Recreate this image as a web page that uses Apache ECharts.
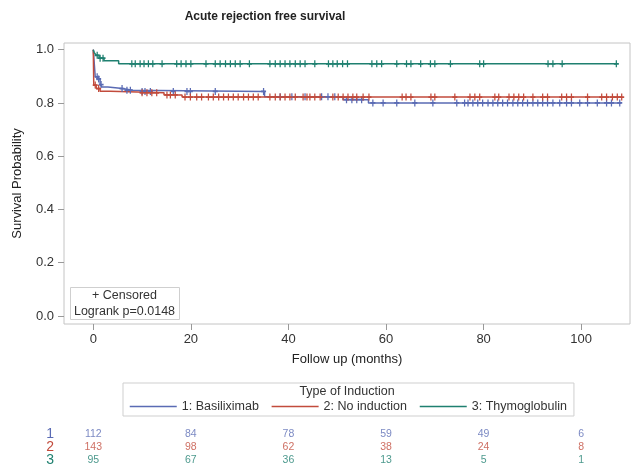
<!DOCTYPE html>
<html><head><meta charset="utf-8">
<script src="https://cdn.jsdelivr.net/npm/echarts@6/dist/echarts.min.js"></script>
<style>html,body{margin:0;padding:0;background:#fff}#c{width:631px;height:467px}</style>
</head><body><div id="c"></div>
<script>
const FONT = '"Liberation Sans", Arial, sans-serif';
const groupNames = ['1: Basiliximab', '2: No induction', '3: Thymoglobulin'];
const groupColors = ['#5a6bb4', '#c24b3c', '#1f8070'];
const rowLabels = ['1', '2', '3'];

// Kaplan-Meier step curves (time in months, survival probability)
const basiliximabTimes = [0, 0.4, 0.9, 1.4, 1.8, 3, 6, 8, 35.1, 51.2, 56.4, 108.2];
const basiliximabSurv  = [1, 0.898, 0.89, 0.869, 0.86, 0.854, 0.848, 0.843, 0.823, 0.812, 0.80, 0.80];
const noInductionTimes = [0, 0.1, 0.6, 1.4, 3.5, 14.5, 18.2, 108.4];
const noInductionSurv  = [1, 0.867, 0.854, 0.844, 0.838, 0.830, 0.822, 0.822];
const thymoTimes = [0, 0.2, 0.6, 1.2, 2.2, 5.2, 107.2];
const thymoSurv  = [1, 0.989, 0.979, 0.968, 0.958, 0.947, 0.947];

// Censoring times (months)
const basiliximabCensor = [0.8, 1.1, 1.6, 5.9, 6.9, 7.6, 10.0, 10.6, 11.7, 16.4, 19.2, 19.9, 25.0, 34.9, 38.3, 40.7, 43.4, 46.8, 48.1, 49.5, 51.9, 53.0, 54.0, 55.0, 57.3, 59.4, 62.2, 65.9, 69.6, 74.5, 76.1, 76.8, 77.8, 78.8, 79.8, 80.9, 81.9, 82.9, 83.9, 84.9, 86.0, 87.0, 88.0, 89.0, 90.1, 91.1, 92.1, 93.1, 94.2, 95.6, 97.0, 98.0, 99.7, 101.3, 103.3, 105.2, 106.2, 107.9];
const noInductionCensor = [0.4, 1.1, 10.0, 11.0, 12.0, 13.0, 15.1, 15.8, 16.8, 18.8, 19.9, 21.2, 22.2, 23.6, 24.6, 25.7, 26.7, 27.7, 28.7, 29.7, 30.8, 31.8, 32.8, 33.8, 36.2, 37.3, 38.3, 39.3, 40.3, 41.4, 43.0, 43.8, 44.4, 45.4, 46.5, 49.1, 50.2, 51.2, 52.2, 53.2, 54.0, 55.3, 56.5, 63.3, 64.1, 65.1, 69.2, 70.0, 74.1, 77.2, 78.2, 79.2, 82.3, 83.1, 85.2, 86.2, 87.2, 88.2, 90.1, 92.1, 93.1, 96.0, 97.0, 98.0, 101.3, 104.2, 105.2, 106.4, 107.4, 108.3];
const thymoCensor = [0.8, 1.4, 2.0, 7.9, 8.6, 9.6, 10.4, 11.3, 12.2, 14.1, 17.1, 18.0, 19.0, 20.0, 23.1, 25.0, 26.0, 27.1, 28.1, 29.1, 30.1, 32.0, 36.2, 37.3, 38.3, 39.3, 40.3, 41.4, 42.4, 43.4, 45.4, 48.2, 49.1, 50.0, 51.1, 52.1, 57.1, 58.1, 59.1, 62.2, 64.2, 65.1, 67.1, 69.1, 70.0, 73.2, 79.2, 80.0, 93.2, 94.2, 96.1, 107.2];

// Number at risk
const riskTimes = [0, 20, 40, 60, 80, 100];
const riskBasiliximab = [112, 84, 78, 59, 49, 6];
const riskNoInduction = [143, 98, 62, 38, 24, 8];
const riskThymo = [95, 67, 36, 13, 5, 1];

const xTicks = [0, 20, 40, 60, 80, 100];
const yTicks = [0, 0.2, 0.4, 0.6, 0.8, 1.0];

const curves = [
  {t: basiliximabTimes, s: basiliximabSurv, c: basiliximabCensor, r: riskBasiliximab},
  {t: noInductionTimes, s: noInductionSurv, c: noInductionCensor, r: riskNoInduction},
  {t: thymoTimes, s: thymoSurv, c: thymoCensor, r: riskThymo}
];
function stepValue(times, vals, t) {
  let v = vals[0];
  for (let i = 0; i < times.length; i++) { if (times[i] <= t) v = vals[i]; }
  return v;
}
const plus = 'path://M3,0h2v3h3v2h-3v3h-2v-3h-3v-2h3z';

const series = [];
curves.forEach((g, i) => {
  series.push({
    name: groupNames[i], type: 'line', step: 'end', symbol: 'none',
    xAxisIndex: 0, yAxisIndex: 0,
    data: g.t.map((t, k) => [t, g.s[k]]),
    lineStyle: {width: 1.5, color: groupColors[i]}, itemStyle: {color: groupColors[i]},
    z: 3
  });
});
curves.forEach((g, i) => {
  series.push({
    name: 'censor' + i, type: 'scatter', symbol: plus, symbolSize: [5, 7],
    xAxisIndex: 0, yAxisIndex: 0,
    data: g.c.map(t => [t, stepValue(g.t, g.s, t)]),
    itemStyle: {color: groupColors[i], opacity: 1}, z: 4
  });
});
curves.forEach((g, i) => {
  series.push({
    name: 'risk' + i, type: 'scatter', symbolSize: 1,
    xAxisIndex: 1, yAxisIndex: 1,
    data: riskTimes.map((t, k) => [t, rowLabels[i], g.r[k]]),
    itemStyle: {color: 'rgba(0,0,0,0)'},
    label: {show: true, position: 'inside', formatter: p => p.value[2], color: groupColors[i], fontSize: 10.5, fontFamily: FONT}
  });
});

const chart = echarts.init(document.getElementById('c'), null, {renderer: 'canvas'});
chart.setOption({
  animation: false,
  backgroundColor: '#fff',
  textStyle: {fontFamily: FONT},
  grid: [
    {left: 64, right: 1, top: 43, bottom: 143, show: true, borderColor: '#c4c4c4', borderWidth: 1, containLabel: false},
    {left: 64, right: 1, top: 434.5, height: 29, show: false}
  ],
  legend: {
    data: groupNames, left: 123, top: 383, padding: [17, 7, 3, 6],
    itemWidth: 47, itemHeight: 14, itemGap: 12, orient: 'horizontal',
    borderColor: '#cfcfcf', borderWidth: 1,
    itemStyle: {opacity: 0},
    lineStyle: {width: 1.5},
    textStyle: {fontSize: 12.5, color: '#333', fontFamily: FONT},
    selectedMode: false
  },
  xAxis: [
    {type: 'value', gridIndex: 0, min: -6, max: 110,
     name: 'Follow up (months)', nameLocation: 'middle', nameGap: 29,
     nameTextStyle: {fontSize: 13, color: '#222', fontFamily: FONT},
     axisLine: {show: false, onZero: false},
     axisTick: {show: true, length: 6, lineStyle: {color: '#999'}, customValues: xTicks},
     axisLabel: {fontSize: 13, color: '#333', margin: 9, customValues: xTicks, fontFamily: FONT},
     splitLine: {show: false}},
    {type: 'value', gridIndex: 1, min: -6, max: 110, show: false}
  ],
  yAxis: [
    {type: 'value', gridIndex: 0, min: -0.03, max: 1.025,
     name: 'Survival Probability', nameLocation: 'middle', nameGap: 40,
     nameTextStyle: {fontSize: 13, color: '#222', fontFamily: FONT},
     axisLine: {show: false, onZero: false},
     axisTick: {show: true, length: 6, lineStyle: {color: '#999'}, customValues: yTicks},
     axisLabel: {fontSize: 13, color: '#333', margin: 10, customValues: yTicks, formatter: v => v.toFixed(1), fontFamily: FONT},
     splitLine: {show: false}},
    {type: 'category', gridIndex: 1, data: rowLabels, inverse: true, boundaryGap: false,
     axisLine: {show: false}, axisTick: {show: false}, splitLine: {show: false},
     axisLabel: {fontSize: 14, margin: 10, interval: 0, fontFamily: FONT,
       color: (v, idx) => groupColors[rowLabels.indexOf(v)]}}
  ],
  graphic: [
    {type: 'text', x: 265, y: 17, style: {text: 'Acute rejection free survival', textAlign: 'center', textVerticalAlign: 'middle', font: 'bold 12px ' + FONT, fill: '#222'}},
    {type: 'text', x: 347, y: 392, style: {text: 'Type of Induction', textAlign: 'center', textVerticalAlign: 'middle', font: '12.5px ' + FONT, fill: '#333'}},
    {type: 'rect', shape: {x: 70.5, y: 287.5, width: 109, height: 32}, style: {fill: '#fff', stroke: '#cfcfcf', lineWidth: 1}, z: 10},
    {type: 'text', x: 124.5, y: 296, style: {text: '+ Censored', textAlign: 'center', textVerticalAlign: 'middle', font: '12.5px ' + FONT, fill: '#333'}, z: 11},
    {type: 'text', x: 124.5, y: 311.5, style: {text: 'Logrank p=0.0148', textAlign: 'center', textVerticalAlign: 'middle', font: '12.5px ' + FONT, fill: '#333'}, z: 11}
  ],
  series: series
});
</script></body></html>
